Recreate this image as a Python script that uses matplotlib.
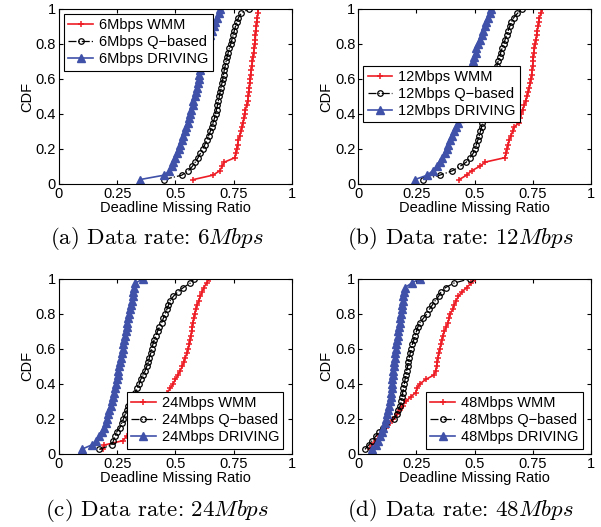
import matplotlib
matplotlib.use("Agg")
import matplotlib.pyplot as plt
import numpy as np

plt.rcParams['font.family'] = ['Liberation Sans', 'DejaVu Sans']
plt.rcParams['mathtext.fontset'] = 'cm'

rates = ["6", "12", "24", "48"]
letters = ["a", "b", "c", "d"]

# deadline missing ratio samples, sorted (CDF steps of 1/40)
wmm_6 = [0.577, 0.66, 0.69, 0.70, 0.71, 0.755, 0.758, 0.762, 0.766, 0.77,
         0.775, 0.78, 0.785, 0.79, 0.793, 0.797, 0.80, 0.805, 0.81, 0.812,
         0.815, 0.817, 0.818, 0.82, 0.822, 0.825, 0.828, 0.83, 0.832, 0.835,
         0.837, 0.84, 0.842, 0.843, 0.845, 0.847, 0.849, 0.851, 0.853, 0.855]
qb_6 = [0.451, 0.527, 0.555, 0.572, 0.585, 0.597, 0.607, 0.617, 0.626, 0.634,
        0.642, 0.649, 0.655, 0.661, 0.667, 0.672, 0.676, 0.680, 0.684, 0.688,
        0.691, 0.695, 0.699, 0.703, 0.706, 0.709, 0.713, 0.717, 0.721, 0.726,
        0.731, 0.737, 0.742, 0.747, 0.752, 0.757, 0.763, 0.770, 0.782, 0.814]
drv_6 = [0.348, 0.451, 0.474, 0.484, 0.491, 0.499, 0.506, 0.513, 0.520, 0.527,
         0.534, 0.539, 0.546, 0.552, 0.556, 0.563, 0.567, 0.574, 0.577, 0.582,
         0.586, 0.592, 0.595, 0.599, 0.602, 0.606, 0.609, 0.613, 0.616, 0.620,
         0.627, 0.635, 0.642, 0.649, 0.656, 0.663, 0.670, 0.678, 0.685, 0.692]

wmm_12 = [0.433, 0.465, 0.486, 0.521, 0.545, 0.629, 0.634, 0.638, 0.643, 0.648,
          0.655, 0.662, 0.669, 0.690, 0.694, 0.698, 0.705, 0.712, 0.718, 0.723,
          0.729, 0.734, 0.738, 0.741, 0.744, 0.746, 0.748, 0.750, 0.751, 0.753,
          0.756, 0.759, 0.762, 0.765, 0.768, 0.771, 0.774, 0.777, 0.784, 0.790]
qb_12 = [0.279, 0.350, 0.404, 0.436, 0.464, 0.480, 0.493, 0.500, 0.507, 0.513,
         0.519, 0.524, 0.529, 0.533, 0.536, 0.540, 0.545, 0.550, 0.555, 0.560,
         0.565, 0.570, 0.575, 0.580, 0.585, 0.590, 0.595, 0.600, 0.607, 0.611,
         0.617, 0.624, 0.630, 0.636, 0.643, 0.650, 0.657, 0.667, 0.683, 0.704]
drv_12 = [0.243, 0.296, 0.319, 0.336, 0.350, 0.361, 0.371, 0.379, 0.386, 0.393,
          0.404, 0.410, 0.421, 0.429, 0.435, 0.440, 0.445, 0.450, 0.455, 0.460,
          0.465, 0.470, 0.474, 0.478, 0.482, 0.486, 0.490, 0.493, 0.497, 0.504,
          0.507, 0.514, 0.521, 0.529, 0.536, 0.543, 0.550, 0.557, 0.564, 0.571]

wmm_24 = [0.191, 0.195, 0.275, 0.29, 0.31, 0.33, 0.35, 0.37, 0.39, 0.41,
          0.425, 0.44, 0.452, 0.465, 0.478, 0.49, 0.50, 0.51, 0.52, 0.53,
          0.535, 0.542, 0.549, 0.555, 0.56, 0.563, 0.566, 0.569, 0.572, 0.575,
          0.578, 0.582, 0.587, 0.593, 0.60, 0.607, 0.614, 0.622, 0.633, 0.646]
qb_24 = [0.173, 0.226, 0.234, 0.241, 0.248, 0.262, 0.269, 0.277, 0.284, 0.291,
         0.298, 0.308, 0.317, 0.327, 0.337, 0.345, 0.351, 0.36, 0.37, 0.377,
         0.384, 0.388, 0.394, 0.398, 0.403, 0.408, 0.417, 0.423, 0.431, 0.441,
         0.448, 0.456, 0.463, 0.47, 0.477, 0.491, 0.51, 0.534, 0.563, 0.58]
drv_24 = [0.097, 0.14, 0.159, 0.173, 0.183, 0.193, 0.202, 0.208, 0.212, 0.216,
          0.222, 0.226, 0.231, 0.236, 0.241, 0.245, 0.248, 0.252, 0.255, 0.259,
          0.262, 0.265, 0.269, 0.274, 0.277, 0.279, 0.284, 0.288, 0.291, 0.294,
          0.298, 0.302, 0.305, 0.309, 0.312, 0.317, 0.319, 0.322, 0.327, 0.362]

wmm_48 = [0.05, 0.06, 0.075, 0.09, 0.105, 0.12, 0.135, 0.15, 0.165, 0.178,
          0.19, 0.205, 0.225, 0.247, 0.252, 0.265, 0.29, 0.325, 0.332, 0.336,
          0.339, 0.342, 0.345, 0.35, 0.355, 0.358, 0.364, 0.37, 0.378, 0.385,
          0.39, 0.395, 0.405, 0.412, 0.42, 0.43, 0.445, 0.465, 0.485, 0.50]
qb_48 = [0.029, 0.045, 0.06, 0.075, 0.09, 0.105, 0.12, 0.155, 0.165, 0.172,
         0.18, 0.185, 0.188, 0.191, 0.194, 0.198, 0.201, 0.204, 0.208, 0.212,
         0.215, 0.219, 0.223, 0.228, 0.232, 0.238, 0.244, 0.25, 0.256, 0.265,
         0.28, 0.295, 0.305, 0.318, 0.33, 0.345, 0.355, 0.375, 0.41, 0.479]
drv_48 = [0.06, 0.075, 0.086, 0.093, 0.1, 0.107, 0.114, 0.121, 0.125, 0.129,
          0.133, 0.136, 0.139, 0.141, 0.143, 0.145, 0.147, 0.149, 0.15, 0.152,
          0.154, 0.156, 0.158, 0.16, 0.163, 0.166, 0.169, 0.172, 0.175, 0.178,
          0.18, 0.183, 0.186, 0.188, 0.19, 0.192, 0.195, 0.2, 0.229, 0.264]

wmm = [wmm_6, wmm_12, wmm_24, wmm_48]
qbased = [qb_6, qb_12, qb_24, qb_48]
driving = [drv_6, drv_12, drv_24, drv_48]

xticks = [0, 0.25, 0.5, 0.75, 1]
xticklabels = ["0", "0.25", "0.5", "0.75", "1"]
yticks = [0, 0.2, 0.4, 0.6, 0.8, 1]
yticklabels = ["0", "0.2", "0.4", "0.6", "0.8", "1"]

RED = "#ee1c25"
BLUE = "#3f51a8"
FS = 10.5

fig = plt.figure(figsize=(6.01, 5.27), dpi=100)

# axes rectangles (left, bottom, width, height) in figure fraction
rects = [(0.098, 0.651, 0.388, 0.332), (0.596, 0.651, 0.388, 0.332),
         (0.098, 0.139, 0.388, 0.332), (0.596, 0.139, 0.388, 0.332)]
legend_opts = [dict(loc="upper left", bbox_to_anchor=(0.0, 1.0)),
               dict(loc="upper left", bbox_to_anchor=(0.0, 0.705)),
               dict(loc="lower right", bbox_to_anchor=(0.985, 0.0)),
               dict(loc="lower right", bbox_to_anchor=(0.985, 0.0))]
caption_x = [157, 460, 157, 460]   # pixel centres
caption_y = [238, 238, 510, 510]

for k in range(4):
    ax = fig.add_axes(rects[k])
    w = np.sort(wmm[k])
    q = np.sort(qbased[k])
    d = np.sort(driving[k])
    ax.plot(w, np.arange(1, len(w) + 1) / len(w), color=RED, lw=1.2,
            marker="+", ms=4.5, mew=1.1, label=rates[k] + "Mbps WMM")
    ax.plot(q, np.arange(1, len(q) + 1) / len(q), color="black", lw=0.9,
            ls="-.", marker="o", ms=4, mfc="none", mew=0.9,
            label=rates[k] + "Mbps Q\u2212based")
    ax.plot(d, np.arange(1, len(d) + 1) / len(d), color=BLUE, lw=1.2,
            marker="^", ms=5.5, label=rates[k] + "Mbps DRIVING")

    ax.set_xlim(0, 1)
    ax.set_ylim(0, 1)
    ax.set_xticks(xticks)
    ax.set_xticklabels(xticklabels)
    ax.set_yticks(yticks)
    ax.set_yticklabels(yticklabels)
    ax.tick_params(direction="in", top=True, right=True, length=3,
                   labelsize=FS, pad=2)
    for s in ax.spines.values():
        s.set_linewidth(0.8)
    ax.set_xlabel("Deadline Missing Ratio", fontsize=FS, labelpad=0)
    ax.set_ylabel("CDF", fontsize=FS, labelpad=1)

    leg = ax.legend(fontsize=FS, fancybox=False, framealpha=1,
                    edgecolor="black", handlelength=1.7, borderpad=0.3,
                    labelspacing=0.2, handletextpad=0.4, borderaxespad=0.35,
                    **legend_opts[k])
    leg.get_frame().set_linewidth(0.8)

    caption = "(" + letters[k] + ") Data rate: $" + rates[k] + "Mbps$"
    fig.text(caption_x[k] / 601, 1 - caption_y[k] / 527, caption,
             fontsize=16.5, family="cmr10", ha="center", va="center")

fig.savefig("out.png", dpi=100)
